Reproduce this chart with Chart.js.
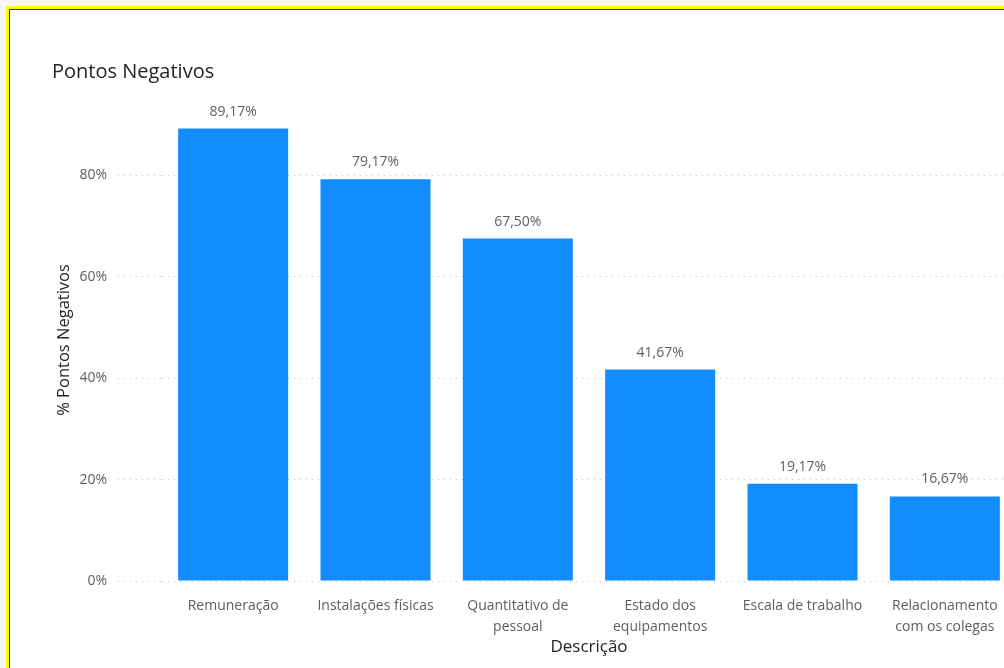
<!DOCTYPE html>
<html>
<head>
<meta charset="utf-8">
<script src="https://cdn.jsdelivr.net/npm/chart.js@4"></script>
<style>
  html, body { margin: 0; padding: 0; overflow: hidden; background: #f7f6f2; width: 1004px; height: 668px; }
  #frame { position: absolute; left: 6px; top: 6px; width: 1100px; height: 800px;
           border-left: 3px solid #ffff00; border-top: 3px solid #ffff00; }
  #inner { position: absolute; left: 0; top: 0; right: 0; bottom: 0; background: #fff;
           border-left: 1px solid #3a3a32; border-top: 1px solid #3a3a32; }
  #chartWrap { position: absolute; left: 52px; top: 50px; }
</style>
</head>
<body>
<div id="frame"><div id="inner"></div></div>
<div id="chartWrap"><canvas id="negChart" width="964" height="618"></canvas></div>
<script>
const categories = [
    'Remuneração',
    'Instalações físicas',
    ['Quantitativo de', 'pessoal'],
    ['Estado dos', 'equipamentos'],
    'Escala de trabalho',
    ['Relacionamento', 'com os colegas']
];
const values = [89.17, 79.17, 67.50, 41.67, 19.17, 16.67];
const yTicks = [0, 20, 40, 60, 80];

const fontFamily = '"Open Sans", "Noto Sans", sans-serif';

// valores acima das barras
const barLabels = {
    id: 'barLabels',
    afterDatasetsDraw(chart) {
        const ctx = chart.ctx;
        const meta = chart.getDatasetMeta(0);
        ctx.save();
        ctx.font = '14px ' + fontFamily;
        ctx.fillStyle = '#605E5C';
        ctx.textAlign = 'center';
        ctx.textBaseline = 'middle';
        meta.data.forEach((bar, i) => {
            const txt = values[i].toFixed(2).replace('.', ',') + '%';
            ctx.fillText(txt, bar.x, bar.y - 17);
        });
        ctx.restore();
    }
};

const data = {
    labels: categories,
    datasets: [{
        label: '% Pontos Negativos',
        data: values,
        backgroundColor: '#118DFF',
        borderWidth: 0,
        categoryPercentage: 0.773,
        barPercentage: 1
    }]
};

const config = {
    type: 'bar',
    data: data,
    plugins: [barLabels],
    options: {
        responsive: false,
        animation: false,
        layout: { padding: 0 },
        plugins: {
            legend: { display: false },
            tooltip: { enabled: false },
            title: {
                display: true,
                text: 'Pontos Negativos',
                align: 'start',
                color: '#252423',
                font: { family: fontFamily, size: 20, weight: 'normal' },
                padding: { top: 10, bottom: 15 }
            }
        },
        scales: {
            x: {
                grid: { display: false, drawTicks: false },
                border: { display: false },
                ticks: {
                    color: '#605E5C',
                    font: { family: fontFamily, size: 14, lineHeight: 1.5 },
                    padding: 14.5,
                    maxRotation: 0,
                    autoSkip: false
                },
                title: {
                    display: true,
                    text: 'Descrição',
                    color: '#252423',
                    font: { family: fontFamily, size: 17 },
                    padding: { top: 0, bottom: 10.8 }
                },
                afterFit(scale) { scale.height = 87; }
            },
            y: {
                min: 0,
                max: 95,
                grid: {
                    color: '#c4c4c4',
                    tickLength: 44,
                    tickColor: '#c4c4c4',
                    tickBorderDash: [1, 5]
                },
                border: { display: false, dash: [1, 5] },
                ticks: {
                    stepSize: 20,
                    padding: 11,
                    color: '#605E5C',
                    font: { family: fontFamily, size: 14 },
                    callback: v => v + '%'
                },
                afterBuildTicks(scale) {
                    scale.ticks = scale.ticks.filter(t => yTicks.includes(t.value));
                },
                title: {
                    display: true,
                    text: '% Pontos Negativos',
                    color: '#252423',
                    font: { family: fontFamily, size: 16.5 },
                    padding: { top: 2, bottom: 0 }
                },
                afterFit(scale) { scale.width = 110; }
            }
        }
    }
};

var negChart = new Chart(document.getElementById('negChart'), config);
</script>
</body>
</html>
